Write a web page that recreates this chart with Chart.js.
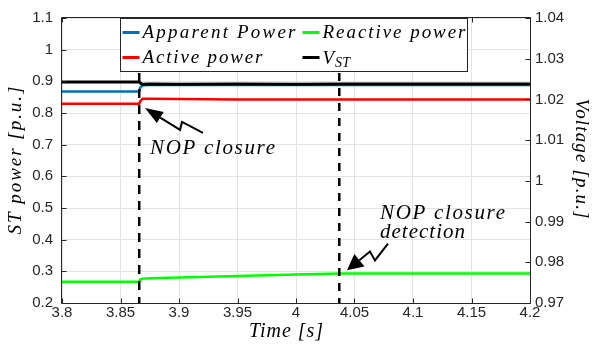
<!DOCTYPE html>
<html>
<head>
<meta charset="utf-8">
<script src="https://cdn.jsdelivr.net/npm/chart.js@4/dist/chart.umd.min.js"></script>
<style>
  html, body { margin: 0; padding: 0; background: #ffffff; }
  #wrap { width: 592px; height: 356px; }
</style>
</head>
<body>
<div id="wrap"><canvas id="c" width="592" height="356"></canvas></div>
<script>
// Sample times [s] and the four measured quantities around the NOP closure event
const time          = [3.800, 3.866, 3.867, 3.869, 3.875, 3.900, 3.950, 4.000, 4.037, 4.040, 4.100, 4.200];
const apparentPower = [0.868, 0.868, 0.881, 0.8875, 0.8885, 0.8885, 0.8885, 0.8885, 0.8885, 0.8885, 0.8885, 0.8885];
const activePower   = [0.829, 0.829, 0.838, 0.845, 0.845, 0.844, 0.843, 0.843, 0.843, 0.843, 0.843, 0.843];
const reactivePower = [0.267, 0.267, 0.274, 0.277, 0.278, 0.2803, 0.285, 0.2897, 0.293, 0.293, 0.293, 0.293];
const voltageST     = [1.0243, 1.0243, 1.0240, 1.0237, 1.0238, 1.0237, 1.0238, 1.0237, 1.0238, 1.0238, 1.0238, 1.0238];

// Event instants: NOP closure and its detection
const eventTimes = [3.866, 4.037];

// Axis ticks and their labels
const timeTicks   = [3.8, 3.85, 3.9, 3.95, 4.0, 4.05, 4.1, 4.15, 4.2];
const timeLabels  = ['3.8', '3.85', '3.9', '3.95', '4', '4.05', '4.1', '4.15', '4.2'];
const powerTicks  = [0.2, 0.3, 0.4, 0.5, 0.6, 0.7, 0.8, 0.9, 1.0, 1.1];
const powerLabels = ['0.2', '0.3', '0.4', '0.5', '0.6', '0.7', '0.8', '0.9', '1', '1.1'];
const voltTicks   = [0.97, 0.98, 0.99, 1.0, 1.01, 1.02, 1.03, 1.04];
const voltLabels  = ['0.97', '0.98', '0.99', '1', '1.01', '1.02', '1.03', '1.04'];

const COLORS = { apparent: '#0072BD', active: '#FF0000', reactive: '#00FF00', volt: '#000000' };
const SERIF = '"Liberation Serif", "Times New Roman", serif';
const AXIS_INK = '#262626';

const pts = vals => time.map((t, i) => ({ x: t, y: vals[i] }));
const vline = t => [{ x: t, y: powerTicks[0] }, { x: t, y: powerTicks[powerTicks.length - 1] }];

function fixTicks(values) {
  return scale => { scale.ticks = values.map(v => ({ value: v })); };
}

// Draws text starting at (x, y), spreading the glyphs so the run spans `width` pixels
function spacedText(ctx, text, x, y, width) {
  ctx.letterSpacing = '0px';
  const w = ctx.measureText(text).width;
  const n = text.length - 1;
  const ls = n > 0 ? Math.max(0, (width - w) / n) : 0;
  ctx.letterSpacing = ls.toFixed(2) + 'px';
  ctx.fillText(text, x, y);
  ctx.letterSpacing = '0px';
}

// Frame with inward tick marks on all four sides
const framePlugin = {
  id: 'frame',
  afterDatasetsDraw(chart) {
    const { ctx, chartArea: a, scales } = chart;
    const L = a.left - 0.5, R = a.right + 0.5, T = a.top - 0.5, B = a.bottom + 0.5;
    const tl = 5;
    ctx.save();
    ctx.strokeStyle = AXIS_INK;
    ctx.lineWidth = 1;
    ctx.beginPath();
    ctx.rect(L, T, R - L, B - T);
    timeTicks.forEach(v => {
      const x = Math.round(scales.x.getPixelForValue(v)) + 0.5;
      ctx.moveTo(x, B); ctx.lineTo(x, B - tl);
      ctx.moveTo(x, T); ctx.lineTo(x, T + tl);
    });
    powerTicks.forEach(v => {
      const y = Math.round(scales.yP.getPixelForValue(v)) + 0.5;
      ctx.moveTo(L, y); ctx.lineTo(L + tl, y);
    });
    voltTicks.forEach(v => {
      const y = Math.round(scales.yV.getPixelForValue(v)) + 0.5;
      ctx.moveTo(R, y); ctx.lineTo(R - tl, y);
    });
    ctx.stroke();
    ctx.restore();
  }
};

// Lightning-style arrow: polyline through the points, filled head at the last point
function lightningArrow(ctx, p, headLen, headHalf) {
  const tip = p[p.length - 1], prev = p[p.length - 2];
  const dx = tip.x - prev.x, dy = tip.y - prev.y;
  const d = Math.hypot(dx, dy), ux = dx / d, uy = dy / d;
  const bx = tip.x - ux * headLen, by = tip.y - uy * headLen;
  ctx.beginPath();
  ctx.moveTo(p[0].x, p[0].y);
  for (let i = 1; i < p.length - 1; i++) ctx.lineTo(p[i].x, p[i].y);
  ctx.lineTo(bx, by);
  ctx.stroke();
  ctx.beginPath();
  ctx.moveTo(tip.x, tip.y);
  ctx.lineTo(bx - uy * headHalf, by + ux * headHalf);
  ctx.lineTo(bx + uy * headHalf, by - ux * headHalf);
  ctx.closePath();
  ctx.fill();
}

// Annotations, legend and axis titles
const overlayPlugin = {
  id: 'overlay',
  afterDraw(chart) {
    const { ctx, chartArea: a, scales } = chart;
    const P = (t, v) => ({ x: scales.x.getPixelForValue(t), y: scales.yP.getPixelForValue(v) });
    ctx.save();

    // arrows
    ctx.strokeStyle = '#000';
    ctx.fillStyle = '#000';
    ctx.lineWidth = 2;
    ctx.lineJoin = 'miter';
    lightningArrow(ctx, [P(3.9205, 0.7375), P(3.9026, 0.7719), P(3.9009, 0.7469), P(3.8709, 0.8156)], 18, 6.5);
    lightningArrow(ctx, [P(4.0786, 0.3875), P(4.0675, 0.3344), P(4.0632, 0.3625), P(4.0436, 0.3031)], 16, 8);

    // annotation text
    ctx.font = 'italic 21px ' + SERIF;
    ctx.textBaseline = 'alphabetic';
    ctx.textAlign = 'left';
    let q = P(3.8752, 0.6719);
    spacedText(ctx, 'NOP closure', q.x, q.y, 125);
    q = P(4.0718, 0.4656);
    spacedText(ctx, 'NOP closure', q.x, q.y, 125);
    q = P(4.0718, 0.4063);
    spacedText(ctx, 'detection', q.x, q.y, 85);

    // legend box
    const lx = a.left + 58.5, ly = a.top + 0.5, lw = 347, lh = 53;
    ctx.fillStyle = '#ffffff';
    ctx.fillRect(lx, ly, lw, lh);
    ctx.strokeStyle = AXIS_INK;
    ctx.lineWidth = 1;
    ctx.strokeRect(lx, ly, lw, lh);
    const entries = [
      { label: 'Apparent Power', w: 153, color: COLORS.apparent, col: 0, row: 0 },
      { label: 'Reactive power', w: 143, color: COLORS.reactive, col: 1, row: 0 },
      { label: 'Active power',   w: 120, color: COLORS.active,   col: 0, row: 1 },
      { label: 'V', sub: 'ST',   w: 0,   color: COLORS.volt,     col: 1, row: 1 }
    ];
    const colX = [lx + 2, lx + 182];
    const rowY = [ly + 14, ly + 39];
    entries.forEach(e => {
      const x0 = colX[e.col], y0 = rowY[e.row];
      ctx.strokeStyle = e.color;
      ctx.lineWidth = 3;
      ctx.beginPath();
      ctx.moveTo(x0, y0); ctx.lineTo(x0 + 17, y0);
      ctx.stroke();
      ctx.fillStyle = '#000';
      ctx.font = 'italic 19px ' + SERIF;
      if (e.sub) {
        ctx.fillText(e.label, x0 + 20, y0 + 6);
        const w = ctx.measureText(e.label).width;
        ctx.font = 'italic 14px ' + SERIF;
        spacedText(ctx, e.sub, x0 + 21 + w, y0 + 9, 15);
      } else {
        spacedText(ctx, e.label, x0 + 20, y0 + 5, e.w);
      }
    });

    // axis titles
    ctx.fillStyle = '#000';
    ctx.textAlign = 'left';
    ctx.textBaseline = 'alphabetic';
    const midY = (a.top + a.bottom) / 2;
    ctx.font = 'italic 19px ' + SERIF;
    ctx.save();
    ctx.translate(21, midY + 74);
    ctx.rotate(-Math.PI / 2);
    spacedText(ctx, 'ST power [p.u.]', 0, 0, 148);
    ctx.restore();
    ctx.save();
    ctx.translate(576, midY - 62);
    ctx.rotate(Math.PI / 2);
    spacedText(ctx, 'Voltage [p.u.]', 0, 0, 120);
    ctx.restore();
    ctx.font = 'italic 20px ' + SERIF;
    spacedText(ctx, 'Time [s]', 249, 337, 74);

    ctx.restore();
  }
};

const tickFont = { family: '"Liberation Sans", Arial, sans-serif', size: 15 };

new Chart(document.getElementById('c'), {
  type: 'line',
  data: {
    datasets: [
      { label: 'NOP closure', data: vline(eventTimes[0]), yAxisID: 'yP', borderColor: '#000', borderWidth: 2.5, borderDash: [9, 7], borderDashOffset: 3 },
      { label: 'NOP closure detection', data: vline(eventTimes[1]), yAxisID: 'yP', borderColor: '#000', borderWidth: 2.5, borderDash: [8, 7], borderDashOffset: 3 },
      { label: 'V_ST', data: pts(voltageST), yAxisID: 'yV', borderColor: COLORS.volt, borderWidth: 3 },
      { label: 'Apparent Power', data: pts(apparentPower), yAxisID: 'yP', borderColor: COLORS.apparent, borderWidth: 2.5 },
      { label: 'Active power', data: pts(activePower), yAxisID: 'yP', borderColor: COLORS.active, borderWidth: 2.5 },
      { label: 'Reactive power', data: pts(reactivePower), yAxisID: 'yP', borderColor: COLORS.reactive, borderWidth: 2.5 }
    ]
  },
  options: {
    responsive: false,
    animation: false,
    devicePixelRatio: 1,
    layout: { padding: { top: 15, left: 0, right: 0, bottom: 0 } },
    elements: { point: { radius: 0 }, line: { tension: 0 } },
    plugins: { legend: { display: false }, tooltip: { enabled: false } },
    scales: {
      x: {
        type: 'linear', min: 3.8, max: 4.2,
        afterBuildTicks: fixTicks(timeTicks),
        afterFit: s => { s.height = 53; },
        grid: { color: '#e3e3e3', lineWidth: 1, drawTicks: false },
        border: { display: false },
        ticks: { font: tickFont, color: AXIS_INK, padding: 1, maxRotation: 0, autoSkip: false,
                 callback: (v, i) => timeLabels[i] }
      },
      yP: {
        type: 'linear', position: 'left', min: 0.2, max: 1.1,
        afterBuildTicks: fixTicks(powerTicks),
        afterFit: s => { s.width = 62; },
        grid: { color: '#e3e3e3', lineWidth: 1, drawTicks: false },
        border: { display: false },
        ticks: { font: tickFont, color: AXIS_INK, padding: 9, autoSkip: false,
                 callback: (v, i) => powerLabels[i] }
      },
      yV: {
        type: 'linear', position: 'right', min: 0.97, max: 1.04,
        afterBuildTicks: fixTicks(voltTicks),
        afterFit: s => { s.width = 62; },
        grid: { display: false, drawTicks: false },
        border: { display: false },
        ticks: { font: tickFont, color: AXIS_INK, padding: 5, autoSkip: false,
                 callback: (v, i) => voltLabels[i] }
      }
    }
  },
  plugins: [framePlugin, overlayPlugin]
});
</script>
</body>
</html>
